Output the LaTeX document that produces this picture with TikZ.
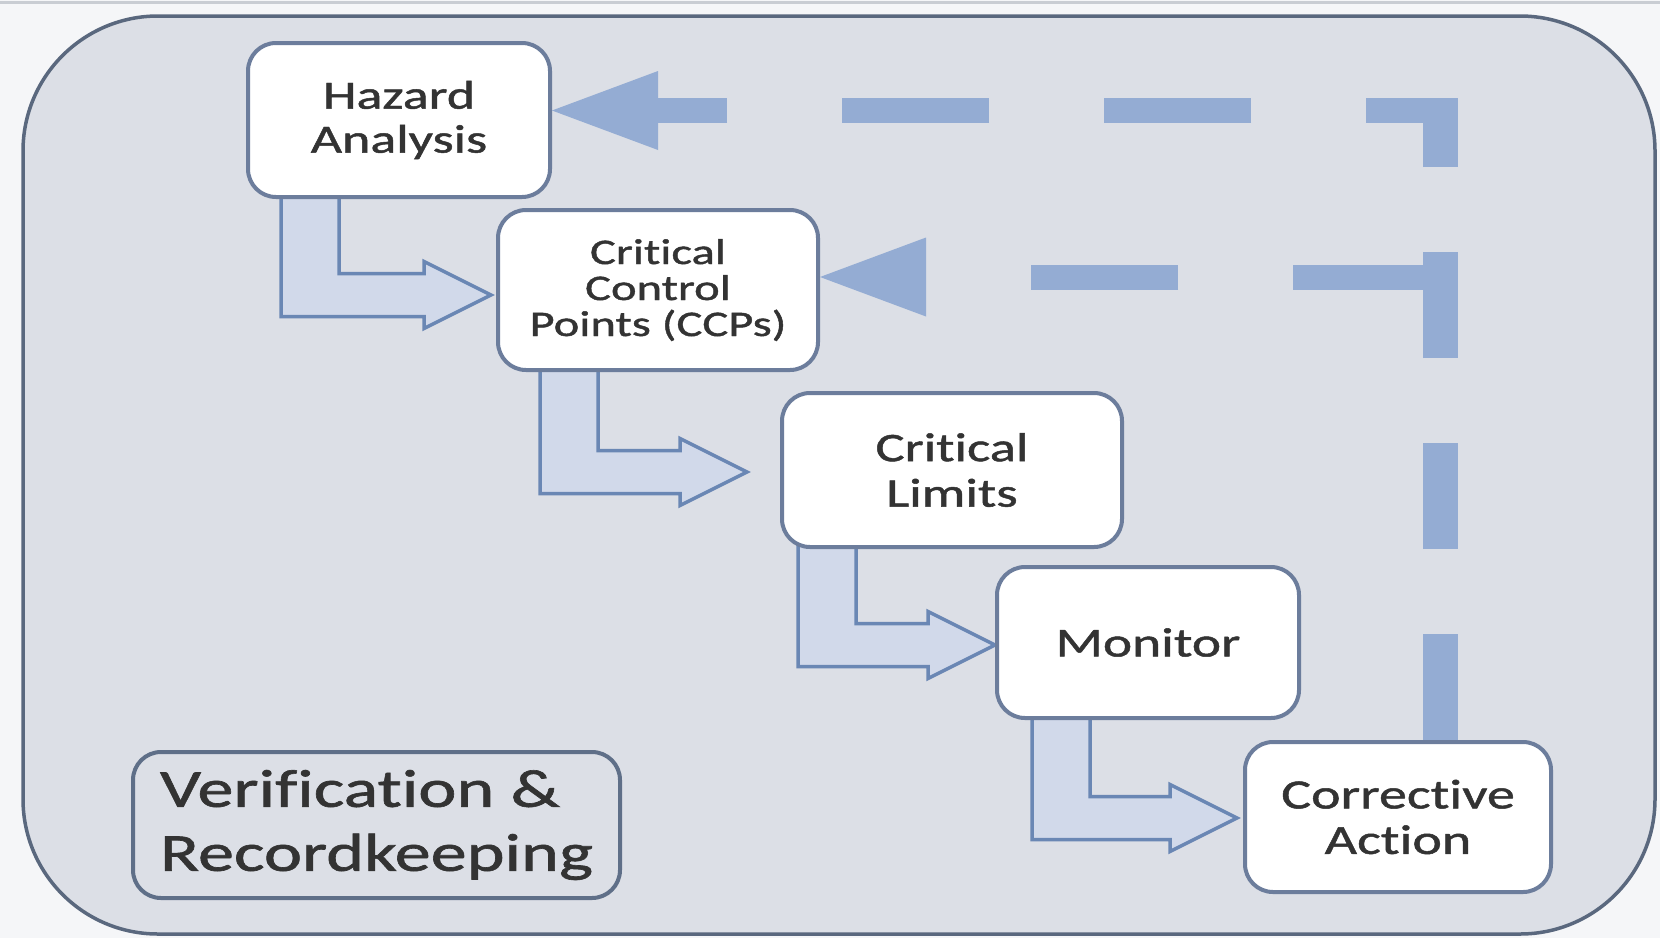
\documentclass[tikz,border=0pt]{standalone}
\usepackage{fontspec}
\usetikzlibrary{arrows.meta,calc}
\newfontfamily\haccpfont[FakeStretch=1.35,FakeBold=1.2,Ligatures=NoCommon]{Carlito}

\definecolor{pagebg}{HTML}{F5F6F8}
\definecolor{topedge}{HTML}{C9CDD3}
\definecolor{panelfill}{HTML}{DCDFE6}
\definecolor{panelline}{HTML}{5A687E}
\definecolor{boxline}{HTML}{6C7D9C}
\definecolor{noteline}{HTML}{5F6F88}
\definecolor{linkline}{HTML}{6A87B4}
\definecolor{linkfill}{HTML}{D1D9EA}
\definecolor{loopblue}{HTML}{94ACD3}
\definecolor{inktext}{HTML}{333333}

\pgfdeclarelayer{panel}
\pgfdeclarelayer{links}
\pgfsetlayers{panel,links,main}

% bent hollow arrow from the bottom of #1 to the left side of #2
% #3: gap before #2, #4: vertical offset of the tip, #5: tip-to-outer-edge distance
\newcommand\stepconn[5]{%
  \draw[bentlink] let \p1=($(#2.west)+(-#3,#4)$), \p2=(#1.south) in
    (\x1-#5pt,\y2+4pt) -- (\x1-#5pt,\y1-21.5pt) -- (\x1-67pt,\y1-21.5pt)
    -- (\x1-67pt,\y1-33.5pt) -- (\x1,\y1) -- (\x1-67pt,\y1+33.5pt)
    -- (\x1-67pt,\y1+21.5pt) -- (\x1-#5pt+58pt,\y1+21.5pt) -- (\x1-#5pt+58pt,\y2+4pt);
}

\begin{document}
\begin{tikzpicture}[x=1pt,y=-1pt,
  stepbox/.style={draw=boxline, line width=4, fill=white, rounded corners=28,
    inner sep=0, align=center, text=inktext},
  notebox/.style={draw=noteline, line width=4, rounded corners=28,
    inner sep=0, align=left, text=inktext},
  bentlink/.style={draw=linkline, fill=linkfill, line width=3.5, line join=miter},
  loophead/.style={-{Triangle[length=106pt,width=79pt,line width=0pt]}},
  loopv/.style={draw=loopblue, line width=35, line cap=butt, dash pattern=on 106pt off 85pt},
  looph/.style={draw=loopblue, line width=25, line cap=butt, dash pattern=on 147pt off 115pt, loophead},
]
\useasboundingbox (0,0) rectangle (1660,938);

% process steps
\node[stepbox, minimum width=302, minimum height=154,
  font=\haccpfont\fontsize{40}{44}\selectfont] (haz) at (399,120) {Hazard\\Analysis};
\node[stepbox, minimum width=320, minimum height=160,
  font=\haccpfont\fontsize{36}{36}\selectfont] (ccp) at (658,290) {Critical\\Control\\Points (CCPs)};
\node[stepbox, minimum width=340, minimum height=154,
  font=\haccpfont\fontsize{40.5}{45.5}\selectfont] (lim) at (952,470) {Critical\\Limits};
\node[stepbox, minimum width=302, minimum height=151,
  font=\haccpfont\fontsize{41}{46}\selectfont] (mon) at (1148,642.5) {Monitor};
\node[stepbox, minimum width=306, minimum height=150,
  font=\haccpfont\fontsize{41.5}{45.5}\selectfont] (ca) at (1398,817) {Corrective\\Action};
\node[notebox, minimum width=487, minimum height=146,
  font=\haccpfont\fontsize{53.5}{64}\selectfont] (vr) at (376.5,825) {Verification \&\\Recordkeeping};

\coordinate (ctop) at (1440,98);
\coordinate (turn) at (1457.5,110.5);
\coordinate (tee) at (1440,277);

\begin{pgfonlayer}{panel}
  \fill[pagebg] (0,0) rectangle (1660,938);
  \draw[topedge, line width=3] (0,2.5) -- (1660,2.5);
  \draw[panelline, fill=panelfill, line width=3.5, rounded corners=135] (23,16) rectangle (1655,934);
\end{pgfonlayer}

\begin{pgfonlayer}{links}
  % step-to-step arrows
  \stepconn{haz}{ccp}{5}{5}{210}
  \stepconn{ccp}{lim}{33}{2}{207}
  \stepconn{lim}{mon}{0}{2.5}{197}
  \stepconn{mon}{ca}{6}{1}{205}
  % dashed feedback loop
  \draw[loopv] ($(ca.north)+(42,0)$) -- (ctop);
  \draw[looph, dash phase=55.5pt] (turn) -- ([yshift=9.5pt]haz.east);
  \draw[looph] (tee) -- ([yshift=13pt]ccp.east);
\end{pgfonlayer}
\end{tikzpicture}
\end{document}
